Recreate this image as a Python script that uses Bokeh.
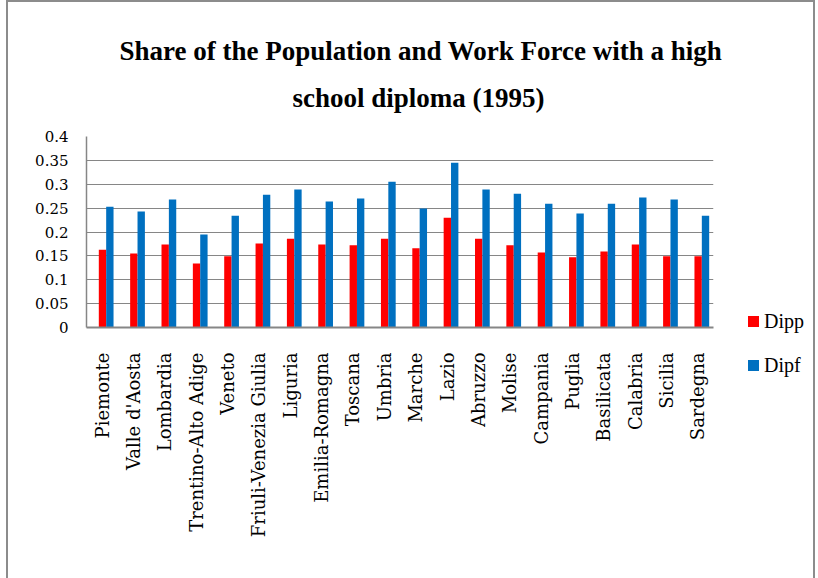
from bokeh.plotting import figure
from bokeh.layouts import row
from bokeh.models import (FactorRange, Range1d, FixedTicker, ColumnDataSource, Title, Div)
from bokeh.transform import dodge
from bokeh.embed import file_html
from bokeh.resources import INLINE
import math

regions = ["Piemonte", "Valle d'Aosta", "Lombardia", "Trentino-Alto Adige", "Veneto",
           "Friuli-Venezia Giulia", "Liguria", "Emilia-Romagna", "Toscana", "Umbria",
           "Marche", "Lazio", "Abruzzo", "Molise", "Campania", "Puglia", "Basilicata",
           "Calabria", "Sicilia", "Sardegna"]
dipp = [0.163, 0.155, 0.174, 0.134, 0.149, 0.176, 0.186, 0.174, 0.172, 0.186,
        0.166, 0.230, 0.186, 0.172, 0.157, 0.147, 0.159, 0.174, 0.149, 0.149]
dipf = [0.253, 0.243, 0.268, 0.195, 0.234, 0.278, 0.289, 0.264, 0.270, 0.305,
        0.249, 0.345, 0.289, 0.280, 0.259, 0.239, 0.259, 0.272, 0.268, 0.234]
y_ticks = [0, 0.05, 0.1, 0.15, 0.2, 0.25, 0.3, 0.35, 0.4]
y_tick_labels = ["0", "0.05", "0.1", "0.15", "0.2", "0.25", "0.3", "0.35", "0.4"]
title_lines = ["Share of the Population and Work Force with a high", "school diploma (1995)"]
series_names = ["Dipp", "Dipf"]
series_colors = ["#FF0000", "#0070C0"]

src = ColumnDataSource(dict(region=regions, dipp=dipp, dipf=dipf))

p = figure(width=720, height=576, output_backend="svg", toolbar_location=None,
           x_range=FactorRange(*regions, range_padding=0), y_range=Range1d(0, 0.4),
           min_border_left=78, min_border_right=15, min_border_top=134, min_border_bottom=251,
           title=None)
p.outline_line_color = None
p.background_fill_color = "white"
p.border_fill_color = "white"

p.vbar(x=dodge("region", 0.01, range=p.x_range), top="dipp", width=0.235,
       source=src, fill_color=series_colors[0], line_color=None)
p.vbar(x=dodge("region", 0.245, range=p.x_range), top="dipf", width=0.235,
       source=src, fill_color=series_colors[1], line_color=None)

# axes
p.xgrid.grid_line_color = None
p.ygrid.grid_line_color = "#868686"
p.ygrid.grid_line_width = 1.2
p.yaxis.ticker = FixedTicker(ticks=y_ticks)
p.yaxis.major_label_overrides = {t: l for t, l in zip(y_ticks, y_tick_labels)}
p.yaxis.axis_line_color = "#868686"
p.yaxis.axis_line_width = 1.5
p.yaxis.major_tick_line_color = None
p.yaxis.minor_tick_line_color = None
p.yaxis.major_tick_out = 0
p.yaxis.major_label_standoff = 18
p.yaxis.major_label_text_font = "DejaVu Serif"
p.yaxis.major_label_text_font_size = "15px"
p.yaxis.major_label_text_color = "black"

p.xaxis.axis_line_color = "#868686"
p.xaxis.axis_line_width = 2
p.xaxis.major_tick_line_color = None
p.xaxis.major_tick_out = 0
p.xaxis.major_label_orientation = math.pi / 2
p.xaxis.major_label_standoff = 25
p.xaxis.major_label_text_font = "DejaVu Serif"
p.xaxis.major_label_text_font_size = "18px"
p.xaxis.major_label_text_color = "black"


def make_title(text, offset, standoff):
    kw = dict(text=text, align="left", offset=offset,
              text_font="Liberation Serif", text_font_style="bold",
              text_font_size="27px", text_color="black")
    try:
        return Title(standoff=standoff, **kw)
    except Exception:
        return Title(standoff=0, **kw)


# title: second line nearest the plot, first line above it
p.add_layout(make_title(title_lines[1], 206, 47), "above")
p.add_layout(make_title(title_lines[0], 33, -17), "above")

# legend (HTML, to the right of the plot)
rows_html = ""
for i, (name, col) in enumerate(zip(series_names, series_colors)):
    top = 308 + 44 * i
    rows_html += (
        f'<div style="position:absolute;left:20px;top:{top}px;height:22px;'
        f'display:flex;align-items:center;">'
        f'<span style="display:inline-block;width:11px;height:11px;background:{col};"></span>'
        f'<span style="margin-left:5px;font-family:\'Liberation Serif\';font-size:20px;'
        f'line-height:22px;color:black;">{name}</span></div>'
    )
legend_div = Div(text=f'<div style="position:relative;width:85px;height:576px;">{rows_html}</div>',
                 width=85, height=576, margin=0)

layout = row(p, legend_div, spacing=0,
             styles={"border-left": "2px solid #8c8c8c", "border-top": "2px solid #8c8c8c",
                     "border-right": "2px solid #8c8c8c", "margin-left": "6px",
                     "background": "white"})

open("out.html", "w").write(file_html(layout, INLINE))
